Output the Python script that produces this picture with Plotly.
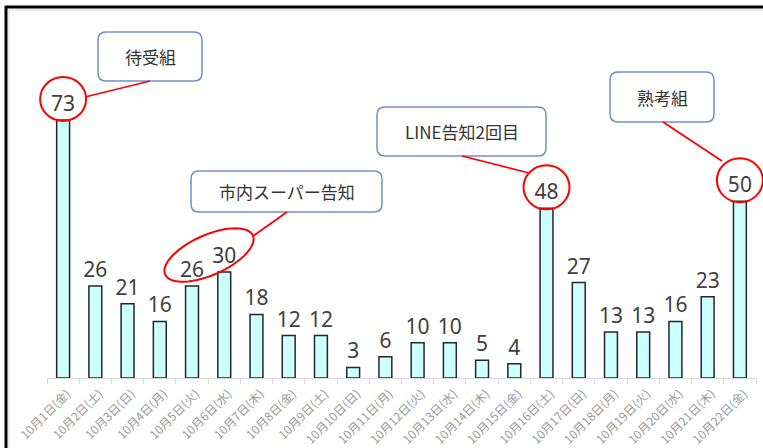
import numpy as np
import plotly.graph_objects as go

categories = ["10月1日(金)", "10月2日(土)", "10月3日(日)", "10月4日(月)", "10月5日(火)",
              "10月6日(水)", "10月7日(木)", "10月8日(金)", "10月9日(土)", "10月10日(日)",
              "10月11日(月)", "10月12日(火)", "10月13日(水)", "10月14日(木)", "10月15日(金)",
              "10月16日(土)", "10月17日(日)", "10月18日(月)", "10月19日(火)", "10月20日(水)",
              "10月21日(木)", "10月22日(金)"]
values = [73, 26, 21, 16, 26, 30, 18, 12, 12, 3, 6, 10, 10, 5, 4, 48, 27, 13, 13, 16, 23, 50]

callout_texts = ["待受組", "市内スーパー告知", "LINE告知2回目", "熟考組"]
circled_idx = [0, 15, 21]

W, H = 763, 448
L, R, T, B = 47, 756, 20, 378   # plot area in pixels
Y_MAX = (B - T) / 3.534
N = len(categories)


def px(x):
    return (x - L) / (R - L)


def py(y):
    return (B - y) / (B - T)


def rrect(x0, y0, x1, y1, r=8):
    pts = [
        f"M{px(x0 + r)},{py(y0)}",
        f"L{px(x1 - r)},{py(y0)}",
        f"Q{px(x1)},{py(y0)} {px(x1)},{py(y0 + r)}",
        f"L{px(x1)},{py(y1 - r)}",
        f"Q{px(x1)},{py(y1)} {px(x1 - r)},{py(y1)}",
        f"L{px(x0 + r)},{py(y1)}",
        f"Q{px(x0)},{py(y1)} {px(x0)},{py(y1 - r)}",
        f"L{px(x0)},{py(y0 + r)}",
        f"Q{px(x0)},{py(y0)} {px(x0 + r)},{py(y0)}",
        "Z",
    ]
    return " ".join(pts)


def tilted_ellipse(cx, cy, a, b, ang_deg, n=60):
    t = np.linspace(0, 2 * np.pi, n)
    ang = np.deg2rad(ang_deg)
    xs = cx + a * np.cos(t) * np.cos(ang) - b * np.sin(t) * np.sin(ang)
    ys = cy + a * np.cos(t) * np.sin(ang) + b * np.sin(t) * np.cos(ang)
    d = "M" + " L".join(f"{px(x)},{py(y)}" for x, y in zip(xs, ys)) + " Z"
    return d


fig = go.Figure()
fig.add_trace(go.Bar(
    x=categories, y=values, width=0.4,
    marker=dict(color="#CCFFFF", line=dict(color="#262626", width=1.5)),
    text=[str(v) for v in values], textposition="outside", constraintext="none",
    textfont=dict(family="Noto Sans", size=21, color="#404040"),
    cliponaxis=False, hoverinfo="skip",
))

shapes = []
annotations = []
BOX_COLOR = "#7090C8"
RED = "#FF0000"

# callout boxes (pixel boxes) and text
boxes = [(98, 32, 202, 81), (191, 171, 382, 212), (377, 107, 546, 156), (610, 72, 714, 122)]
for (x0, y0, x1, y1), txt in zip(boxes, callout_texts):
    shapes.append(dict(type="path", xref="paper", yref="paper", path=rrect(x0, y0, x1, y1),
                       line=dict(color=BOX_COLOR, width=1.5), fillcolor="white", layer="above"))
    annotations.append(dict(xref="paper", yref="paper", x=px((x0 + x1) / 2), y=py((y0 + y1) / 2),
                            text=txt, showarrow=False, xanchor="center", yanchor="middle",
                            font=dict(family="Noto Sans CJK JP", size=17, color="#333333")))

# leader lines
leaders = [((150, 81), (85, 97)), ((287, 212), (253, 236)), ((462, 156), (529, 173)), ((663, 122), (722, 161))]
for (xa, ya), (xb, yb) in leaders:
    shapes.append(dict(type="line", xref="paper", yref="paper", x0=px(xa), y0=py(ya), x1=px(xb), y1=py(yb),
                       line=dict(color=RED, width=1.8), layer="above"))

# red circles around the labels of selected bars (paper coords derived from bar index/value)
for i in circled_idx:
    cx = L + (i + 0.5) * (R - L) / N
    cy = B - values[i] * (B - T) / Y_MAX - 21
    shapes.append(dict(type="circle", xref="paper", yref="paper",
                       x0=px(cx - 23), x1=px(cx + 23), y0=py(cy + 22), y1=py(cy - 22),
                       line=dict(color=RED, width=2), layer="above"))

# tilted ellipse around 26 / 30
shapes.append(dict(type="path", xref="paper", yref="paper", path=tilted_ellipse(209, 255, 48, 20, -24),
                   line=dict(color=RED, width=2), layer="above"))

# outer frame lines
shapes.append(dict(type="line", xref="paper", yref="paper", x0=px(5), x1=px(770), y0=py(7), y1=py(7),
                   line=dict(color="black", width=3), layer="above"))
shapes.append(dict(type="line", xref="paper", yref="paper", x0=px(6), x1=px(6), y0=py(6), y1=py(460),
                   line=dict(color="black", width=3), layer="above"))
shapes.append(dict(type="line", xref="paper", yref="paper", x0=px(9), x1=px(770), y0=py(10), y1=py(10),
                   line=dict(color="#D9D9D9", width=1), layer="above"))
shapes.append(dict(type="line", xref="paper", yref="paper", x0=px(9), x1=px(9), y0=py(10), y1=py(460),
                   line=dict(color="#D9D9D9", width=1), layer="above"))

fig.update_layout(
    width=W, height=H,
    margin=dict(l=L, r=W - R, t=T, b=H - B, autoexpand=False),
    paper_bgcolor="white", plot_bgcolor="white",
    showlegend=False,
    bargap=0.6,
    shapes=shapes, annotations=annotations,
    xaxis=dict(type="category", range=[-0.5, N - 0.5], tickangle=-45,
               showgrid=False, showline=True, linecolor="#D9D9D9",
               linewidth=1, ticks="outside", tickson="boundaries", ticklen=5, tickcolor="#D9D9D9",
               automargin=False, ticklabelshift=4, ticklabelstandoff=3,
               tickfont=dict(family="Noto Sans CJK JP", size=12, color="#999999"), fixedrange=True),
    yaxis=dict(range=[0, Y_MAX], visible=False, fixedrange=True, automargin=False),
)

fig.write_html("out.html", config={"displayModeBar": False},
               post_script="document.body.style.margin='0';document.body.style.overflow='hidden';")
